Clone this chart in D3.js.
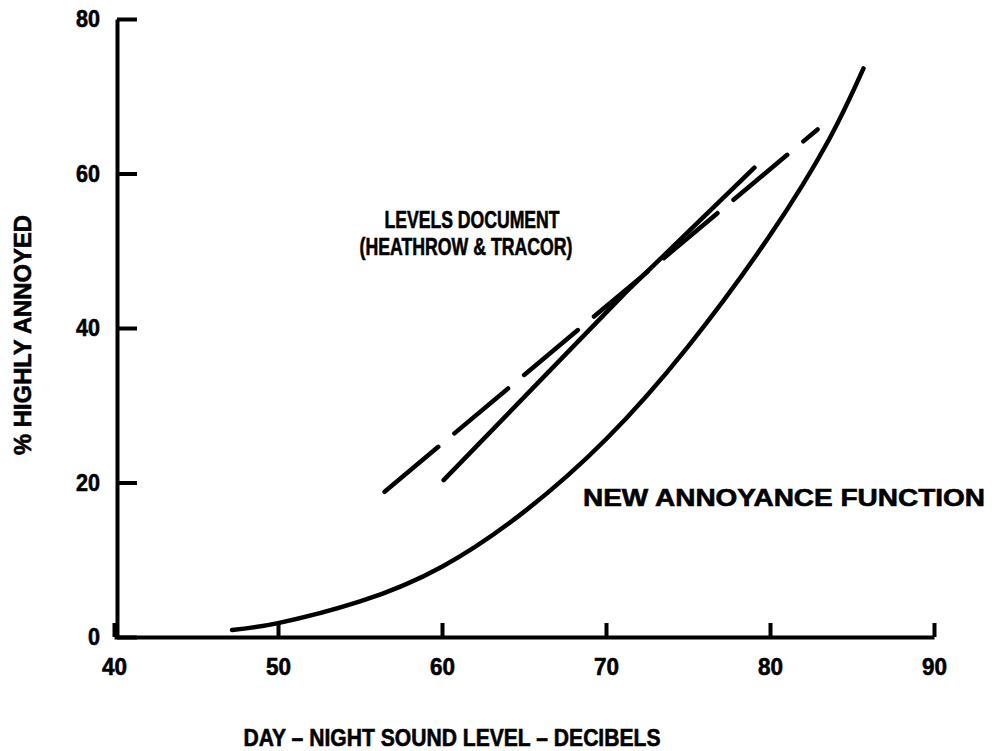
<!DOCTYPE html>
<html>
<head>
<meta charset="utf-8">
<script src="https://cdn.jsdelivr.net/npm/d3@7"></script>
<style>
  body { margin: 0; background: #fff; }
  text { font-family: "Liberation Sans", Arial, sans-serif; font-weight: bold; fill: #000; stroke: #000; stroke-width: 0.6px; }
</style>
</head>
<body>
<div id="container"></div>
<script>
// values
const xTicks = [40, 50, 60, 70, 80, 90];
const yTicks = [0, 20, 40, 60, 80];

// new annoyance function (solid curve)
const newLdn = [47.2, 50, 55, 60, 65, 70, 75, 80, 83.6, 85.7];
const newPct = [0.9, 1.8, 4.6, 9.1, 16.2, 25.6, 37.6, 52.0, 64.4, 73.6];

// levels document, solid segment
const levelsLdn = [60.1, 71.2, 79.05];
const levelsPct = [20.3, 44.6, 60.75];

// levels document, dashed line
const dashLdn = [56.5, 82.9];
const dashPct = [18.8, 65.7];

const w = 998;
const h = 751;

const x = d3.scaleLinear().domain([40, 90]).range([114, 934]);
const y = d3.scaleLinear().domain([0, 80]).range([637, 19]);

const svg = d3.select("#container")
  .append("svg")
  .attr("width", w)
  .attr("height", h);

svg.append("rect").attr("width", w).attr("height", h).attr("fill", "#fff");

const yAxis = svg.append("g")
  .attr("transform", "translate(117,0)")
  .call(d3.axisLeft(y).tickValues(yTicks).tickSizeInner(-20).tickSizeOuter(0).tickPadding(17));

const xAxis = svg.append("g")
  .attr("transform", "translate(0,637)")
  .call(d3.axisBottom(x).tickValues(xTicks).tickSizeInner(-14).tickSizeOuter(0).tickPadding(21));

[yAxis, xAxis].forEach(g => {
  g.attr("font-family", null).attr("font-size", null);
  g.select(".domain").attr("stroke", "#000").attr("stroke-width", 4);
  g.selectAll(".tick line").attr("stroke", "#000").attr("stroke-width", 4);
  g.selectAll(".tick text")
    .attr("fill", "#000")
    .style("font-size", "24px")
    .attr("textLength", 25)
    .attr("lengthAdjust", "spacingAndGlyphs");
});
yAxis.selectAll(".tick text").attr("textLength", d => d === 0 ? 12 : 24);

const line = d3.line()
  .x(d => x(d[0]))
  .y(d => y(d[1]));

svg.append("path")
  .datum(newLdn.map((v, i) => [v, newPct[i]]))
  .attr("d", line.curve(d3.curveNatural))
  .attr("fill", "none")
  .attr("stroke", "#000")
  .attr("stroke-width", 4.5)
  .attr("stroke-linecap", "round");

svg.append("path")
  .datum(levelsLdn.map((v, i) => [v, levelsPct[i]]))
  .attr("d", line.curve(d3.curveLinear))
  .attr("fill", "none")
  .attr("stroke", "#000")
  .attr("stroke-width", 4.5)
  .attr("stroke-linecap", "round");

svg.append("path")
  .datum(dashLdn.map((v, i) => [v, dashPct[i]]))
  .attr("d", line.curve(d3.curveLinear))
  .attr("fill", "none")
  .attr("stroke", "#000")
  .attr("stroke-width", 4.5)
  .attr("stroke-linecap", "round")
  .attr("stroke-dasharray", "70 21");

// captions
function caption(str, cx, cy, len, rot) {
  const t = svg.append("text")
    .attr("x", cx)
    .attr("y", cy + 9)
    .attr("text-anchor", "middle")
    .style("font-size", "24px")
    .attr("textLength", len)
    .attr("lengthAdjust", "spacingAndGlyphs")
    .text(str);
  if (rot) t.attr("transform", "rotate(" + rot + "," + cx + "," + cy + ")");
  return t;
}

caption("LEVELS DOCUMENT", 472, 219, 175);
caption("(HEATHROW & TRACOR)", 466, 246, 213);
caption("NEW ANNOYANCE FUNCTION", 784, 497, 402);
caption("DAY \u2013 NIGHT SOUND LEVEL \u2013 DECIBELS", 452, 737, 417);
caption("% HIGHLY ANNOYED", 22, 335, 240, -90);
</script>
</body>
</html>
